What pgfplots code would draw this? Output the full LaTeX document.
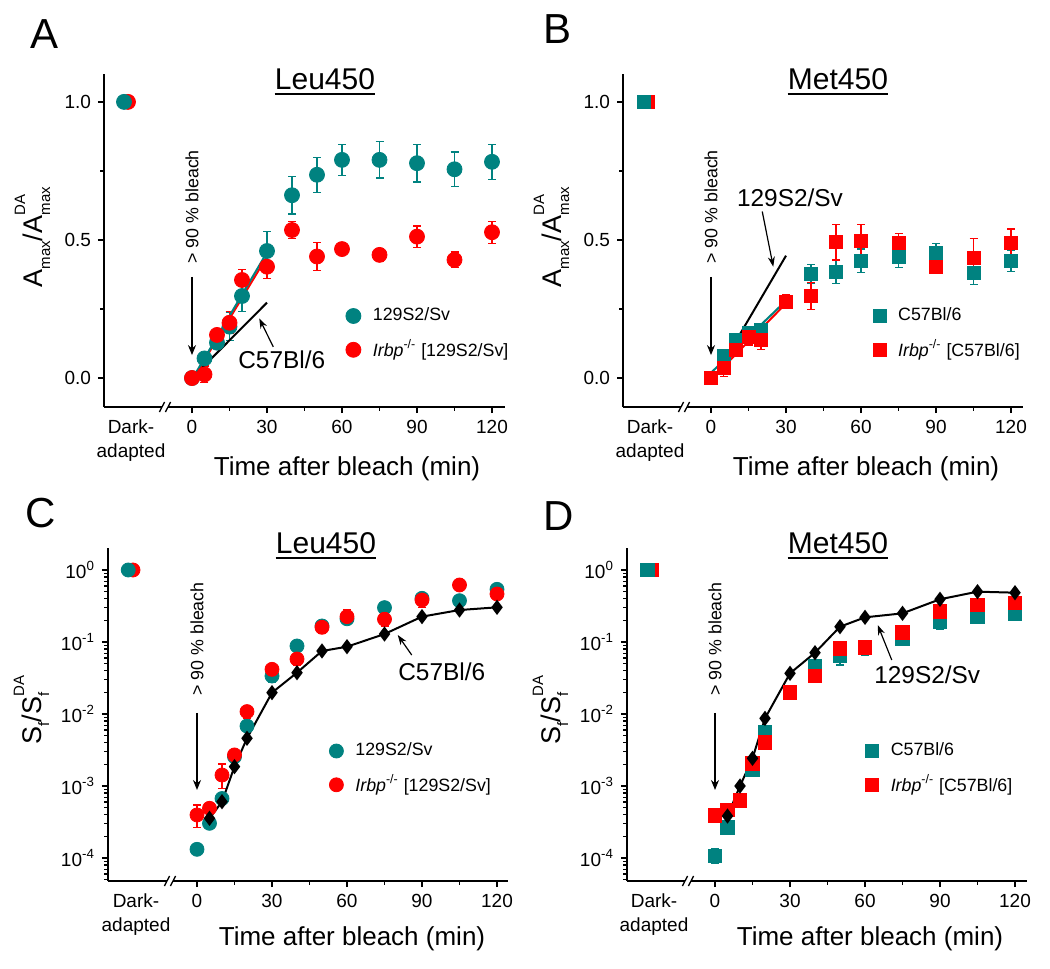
\documentclass[border=0pt]{standalone}
\usepackage{pgfplots}
\pgfplotsset{compat=1.18}
\usepackage{pgfplotstable}
\usepackage{fontspec}
\setmainfont{Liberation Sans}
\usetikzlibrary{arrows.meta}
\definecolor{tealc}{RGB}{0,130,128}
\definecolor{redc}{RGB}{255,0,0}
\newcommand{\sbs}[1]{{\fontsize{7.5}{9}\selectfont #1}}
\newcommand{\Alab}{A\raisebox{-4pt}{\sbs{max}}/A\rlap{\raisebox{-4pt}{\sbs{max}}}\raisebox{8.5pt}{\sbs{DA}}}
\newcommand{\Slab}{S\raisebox{-4pt}{\sbs{f}}/S\rlap{\raisebox{-4pt}{\sbs{f}}}\raisebox{8.5pt}{\sbs{DA}}}
\newcommand{\lfont}{\fontsize{8.9}{10}\selectfont}
\newcommand{\afont}{\fontsize{12.2}{14}\selectfont}

% ---------------- data ----------------
\pgfplotstableread{
t y e
0 0 0
5 0.071 0.012
10 0.128 0.015
15 0.186 0.05
20 0.297 0.055
30 0.46 0.07
40 0.662 0.068
50 0.736 0.063
60 0.79 0.056
75 0.79 0.066
90 0.778 0.068
105 0.756 0.062
120 0.783 0.063
}\tealA
\pgfplotstableread{
t y e
-25.6 1.0 0
0 0 0
5 0.013 0.03
10 0.156 0.02
15 0.2 0.04
20 0.355 0.039
30 0.403 0.042
40 0.536 0.03
50 0.44 0.05
60 0.467 0.01
75 0.446 0.024
90 0.512 0.039
105 0.428 0.028
120 0.528 0.04
}\redA
\pgfplotstableread{
t y e
0 0 0
5 0.08 0.015
10 0.138 0.015
15 0.162 0.02
20 0.176 0.02
30 0.276 0.02
40 0.377 0.035
50 0.385 0.042
60 0.425 0.042
75 0.44 0.04
90 0.452 0.035
105 0.379 0.04
120 0.424 0.037
}\tealB
\pgfplotstableread{
t y e
-25.4 1.0 0
0 0 0
5 0.035 0.03
10 0.101 0.02
15 0.15 0.03
20 0.138 0.035
30 0.276 0.025
40 0.297 0.05
50 0.492 0.065
60 0.497 0.06
75 0.488 0.035
90 0.403 0.025
105 0.434 0.07
120 0.49 0.05
}\redB
\pgfplotstableread{
t y ep em
0 1.32e-4 0.25e-4 0.2e-4
5 3.03e-4 0.5e-4 0.4e-4
10 6.7e-4 0.8e-4 0.7e-4
15 2.55e-3 0.3e-3 0.3e-3
20 6.8e-3 0.8e-3 0.8e-3
30 0.0337 0.004 0.006
40 0.088 0.008 0.008
50 0.167 0.02 0.02
60 0.21 0.02 0.02
75 0.30 0.02 0.02
90 0.404 0.05 0.05
105 0.375 0.04 0.04
120 0.539 0.04 0.04
}\tealC
\pgfplotstableread{
t y ep em
-25.6 1 0 0
0 3.96e-4 1.5e-4 1.3e-4
5 4.9e-4 0.7e-4 0.6e-4
10 1.42e-3 0.6e-3 0.5e-3
15 2.7e-3 0.3e-3 0.3e-3
20 0.0108 0.002 0.002
30 0.0417 0.009 0.008
40 0.058 0.012 0.01
50 0.16 0.035 0.03
60 0.225 0.055 0.045
75 0.207 0.05 0.04
90 0.383 0.1 0.08
105 0.619 0.12 0.1
120 0.464 0.06 0.05
}\redC
\pgfplotstableread{
t y
5 3.56e-4
10 6.05e-4
15 1.86e-3
20 4.6e-3
30 0.0198
40 0.0375
50 0.075
60 0.086
75 0.129
90 0.225
105 0.278
120 0.303
}\blackC
\pgfplotstableread{
t y ep em
0 1.07e-4 0.3e-4 0.24e-4
5 2.64e-4 0.2e-4 0.2e-4
10 6.2e-4 0.5e-4 0.5e-4
15 1.67e-3 0.2e-3 0.2e-3
20 5.56e-3 0.6e-3 0.6e-3
30 0.02 0.002 0.002
40 0.0454 0.008 0.008
50 0.064 0.016 0.016
60 0.086 0.02 0.02
75 0.112 0.018 0.018
90 0.191 0.04 0.04
105 0.225 0.02 0.02
120 0.25 0.03 0.03
}\tealD
\pgfplotstableread{
t y ep em
-25.4 1 0 0
0 3.87e-4 0.3e-4 0.3e-4
5 4.64e-4 0.3e-4 0.3e-4
10 6.25e-4 0.4e-4 0.4e-4
15 2.07e-3 0.2e-3 0.2e-3
20 4.0e-3 0.4e-3 0.4e-3
30 0.0198 0.002 0.002
40 0.0337 0.004 0.004
50 0.0817 0.02 0.02
60 0.0843 0.015 0.015
75 0.135 0.015 0.015
90 0.264 0.03 0.03
105 0.327 0.03 0.03
120 0.351 0.04 0.04
}\redD
\pgfplotstableread{
t y
5 3.83e-4
10 1.0e-3
15 2.42e-3
20 8.7e-3
30 0.0367
40 0.071
50 0.163
60 0.22
75 0.25
90 0.392
105 0.5
120 0.484
}\blackD

\pgfplotsset{
  panel/.style={
    scale only axis, anchor=south west, height=166.5pt,
    axis lines=left, axis line style={line width=1pt,-},
    tick align=outside, major tick length=3pt, minor tick length=1.8pt,
    every tick/.append style={line width=0.65pt, black},
    clip=false,
    xtick={0,30,60,90,120}, xticklabels={0,30,60,90,120},
    minor xtick={15,45,75,105},
    tick label style={font=\fontsize{9.5}{12}\selectfont},
    extra x ticks={-24.4}, extra x tick labels={Dark-\\adapted},
    extra x tick style={major tick style={draw=none}, tick label style={align=center}},
    legend cell align=left,
    legend style={draw=none, fill=none, inner sep=0pt, font=\lfont,
      row sep=8pt, column sep=6pt, nodes={inner sep=0pt}},
    legend image code/.code={\draw[##1] plot coordinates {(0pt,0pt)};},
  },
  linpanel/.style={ymin=-0.105, ymax=1.101,
    ytick={0,0.5,1}, yticklabels={0.0,0.5,1.0}, minor ytick={0.25,0.75}},
}

\begin{document}
\begin{tikzpicture}
\useasboundingbox (0pt,0pt) rectangle (525pt,-484.5pt);

% ================= A =================
\begin{axis}[panel, linpanel, at={(52pt,-203.5pt)}, width=200.5pt,
  xmin=-35.2, xmax=125.2,
  legend style={at={(axis cs:61.4,0.160)}, anchor=west}]
\addplot[only marks, mark=*, mark size=3.75pt, color=tealc,
  error bars/.cd, y dir=both, y explicit, error bar style={line width=0.65pt},
  error mark options={rotate=90, mark size=2pt, line width=0.65pt}]
  table[x=t, y=y, y error=e] {\tealA};
\addlegendentry{129S2/Sv}
\addplot[only marks, mark=*, mark size=3.75pt, color=redc,
  error bars/.cd, y dir=both, y explicit, error bar style={line width=0.65pt},
  error mark options={rotate=90, mark size=2pt, line width=0.65pt}]
  table[x=t, y=y, y error=e] {\redA};
\addlegendentry{\textit{Irbp}\textsuperscript{-/-} [129S2/Sv]}
\addplot[only marks, mark=*, mark size=3.75pt, color=tealc, forget plot] coordinates {(-27.2,1)};
\addplot[redc, line width=1pt, forget plot] coordinates {(0,-0.01) (30,0.44)};
\addplot[tealc, line width=1pt, forget plot] coordinates {(0,-0.005) (30,0.455)};
\addplot[black, line width=1pt, forget plot] coordinates {(0,0) (30,0.273)};
\node[rotate=90, font=\lfont] at (axis cs:0,0.62) {> 90 \% bleach};
\draw[line width=0.6pt, -{Stealth[length=5pt,width=4pt]}] (axis cs:0,0.366) -- (axis cs:0,0.083);
\node[font=\afont] at (axis cs:35.9,0.065) {C57Bl/6};
\draw[line width=0.6pt, -{Stealth[length=5pt,width=3.5pt]}] (axis cs:32.5,0.113) -- (axis cs:26.9,0.216);
\fill[white] ([xshift=-1.5pt,yshift=-2pt]axis cs:-10.8,-0.105) rectangle ([xshift=1.5pt,yshift=2pt]axis cs:-10.8,-0.105);
\draw[line width=0.65pt] ([xshift=-2.8pt,yshift=-2.5pt]axis cs:-10.8,-0.105) -- ++(2.6pt,5pt);
\draw[line width=0.65pt] ([xshift=0.2pt,yshift=-2.5pt]axis cs:-10.8,-0.105) -- ++(2.6pt,5pt);
\end{axis}

% ================= B =================
\begin{axis}[panel, linpanel, at={(311.5pt,-203.5pt)}, width=200pt,
  xmin=-35.2, xmax=124.8,
  legend style={at={(axis cs:64.7,0.160)}, anchor=west}]
\addplot[only marks, mark=square*, mark size=3.25pt, color=tealc,
  error bars/.cd, y dir=both, y explicit, error bar style={line width=0.65pt},
  error mark options={rotate=90, mark size=2pt, line width=0.65pt}]
  table[x=t, y=y, y error=e] {\tealB};
\addlegendentry{C57Bl/6}
\addplot[only marks, mark=square*, mark size=3.25pt, color=redc,
  error bars/.cd, y dir=both, y explicit, error bar style={line width=0.65pt},
  error mark options={rotate=90, mark size=2pt, line width=0.65pt}]
  table[x=t, y=y, y error=e] {\redB};
\addlegendentry{\textit{Irbp}\textsuperscript{-/-} [C57Bl/6]}
\addplot[only marks, mark=square*, mark size=3.25pt, color=tealc, forget plot] coordinates {(-27,1)};
\addplot[redc, line width=1pt, forget plot] coordinates {(0,-0.005) (30,0.27)};
\addplot[tealc, line width=1pt, forget plot] coordinates {(0,0.019) (30,0.28)};
\addplot[black, line width=1pt, forget plot] coordinates {(0,-0.02) (30,0.443)};
\node[rotate=90, font=\lfont] at (axis cs:0,0.62) {> 90 \% bleach};
\draw[line width=0.6pt, -{Stealth[length=5pt,width=4pt]}] (axis cs:0,0.366) -- (axis cs:0,0.083);
\node[font=\afont] at (axis cs:31.6,0.651) {129S2/Sv};
\draw[line width=0.6pt, -{Stealth[length=5pt,width=3.5pt]}] (axis cs:20.5,0.603) -- (axis cs:24.9,0.403);
\fill[white] ([xshift=-1.5pt,yshift=-2pt]axis cs:-10.8,-0.105) rectangle ([xshift=1.5pt,yshift=2pt]axis cs:-10.8,-0.105);
\draw[line width=0.65pt] ([xshift=-2.8pt,yshift=-2.5pt]axis cs:-10.8,-0.105) -- ++(2.6pt,5pt);
\draw[line width=0.65pt] ([xshift=0.2pt,yshift=-2.5pt]axis cs:-10.8,-0.105) -- ++(2.6pt,5pt);
\end{axis}

% ================= C =================
\begin{axis}[panel, at={(54pt,-440.5pt)}, width=200pt,
  ymode=log, ymin=4.79e-5, ymax=2.02,
  ytick={1e-4,1e-3,1e-2,1e-1,1},
  yticklabels={10\textsuperscript{-4},10\textsuperscript{-3},10\textsuperscript{-2},10\textsuperscript{-1},10\textsuperscript{0}},
  minor ytick={5e-5,6e-5,7e-5,8e-5,9e-5,2e-4,3e-4,4e-4,5e-4,6e-4,7e-4,8e-4,9e-4,2e-3,3e-3,4e-3,5e-3,6e-3,7e-3,8e-3,9e-3,2e-2,3e-2,4e-2,5e-2,6e-2,7e-2,8e-2,9e-2,0.2,0.3,0.4,0.5,0.6,0.7,0.8,0.9},
  xmin=-35.6, xmax=124.4,
  legend style={at={(axis cs:52.8,1.73e-3)}, anchor=west}]
\addplot[only marks, mark=*, mark size=3.5pt, color=tealc,
  error bars/.cd, y dir=both, y explicit, error bar style={line width=0.65pt},
  error mark options={rotate=90, mark size=2pt, line width=0.65pt}]
  table[x=t, y=y, y error plus=ep, y error minus=em] {\tealC};
\addlegendentry{129S2/Sv}
\addplot[only marks, mark=*, mark size=3.5pt, color=redc,
  error bars/.cd, y dir=both, y explicit, error bar style={line width=0.65pt},
  error mark options={rotate=90, mark size=2pt, line width=0.65pt}]
  table[x=t, y=y, y error plus=ep, y error minus=em] {\redC};
\addlegendentry{\textit{Irbp}\textsuperscript{-/-} [129S2/Sv]}
\addplot[only marks, mark=*, mark size=3.5pt, color=tealc, forget plot] coordinates {(-27.5,1)};
\addplot[black, line width=1pt, mark=diamond*, mark size=3pt, mark options={solid}, forget plot]
  table[x=t, y=y] {\blackC};
\node[rotate=90, font=\lfont] at (axis cs:0,0.110) {> 90 \% bleach};
\draw[line width=0.6pt, -{Stealth[length=5pt,width=4pt]}] (axis cs:0,0.0104) -- (axis cs:0,8.8e-4);
\node[font=\afont] at (axis cs:97.9,0.0387) {C57Bl/6};
\draw[line width=0.6pt, -{Stealth[length=5pt,width=3.5pt]}] (axis cs:85.9,0.0659) -- (axis cs:80.3,0.125);
\fill[white] ([xshift=-1.5pt,yshift=-2pt]axis cs:-10.8,4.79e-5) rectangle ([xshift=1.5pt,yshift=2pt]axis cs:-10.8,4.79e-5);
\draw[line width=0.65pt] ([xshift=-2.8pt,yshift=-2.5pt]axis cs:-10.8,4.79e-5) -- ++(2.6pt,5pt);
\draw[line width=0.65pt] ([xshift=0.2pt,yshift=-2.5pt]axis cs:-10.8,4.79e-5) -- ++(2.6pt,5pt);
\end{axis}

% ================= D =================
\begin{axis}[panel, at={(313.5pt,-440.5pt)}, width=200pt,
  ymode=log, ymin=4.79e-5, ymax=2.02,
  ytick={1e-4,1e-3,1e-2,1e-1,1},
  yticklabels={10\textsuperscript{-4},10\textsuperscript{-3},10\textsuperscript{-2},10\textsuperscript{-1},10\textsuperscript{0}},
  minor ytick={5e-5,6e-5,7e-5,8e-5,9e-5,2e-4,3e-4,4e-4,5e-4,6e-4,7e-4,8e-4,9e-4,2e-3,3e-3,4e-3,5e-3,6e-3,7e-3,8e-3,9e-3,2e-2,3e-2,4e-2,5e-2,6e-2,7e-2,8e-2,9e-2,0.2,0.3,0.4,0.5,0.6,0.7,0.8,0.9},
  xmin=-35.2, xmax=124.8,
  legend style={at={(axis cs:59.9,1.73e-3)}, anchor=west}]
\addplot[only marks, mark=square*, mark size=3.4pt, color=tealc,
  error bars/.cd, y dir=both, y explicit, error bar style={line width=0.65pt},
  error mark options={rotate=90, mark size=2pt, line width=0.65pt}]
  table[x=t, y=y, y error plus=ep, y error minus=em] {\tealD};
\addlegendentry{C57Bl/6}
\addplot[only marks, mark=square*, mark size=3.4pt, color=redc,
  error bars/.cd, y dir=both, y explicit, error bar style={line width=0.65pt},
  error mark options={rotate=90, mark size=2pt, line width=0.65pt}]
  table[x=t, y=y, y error plus=ep, y error minus=em] {\redD};
\addlegendentry{\textit{Irbp}\textsuperscript{-/-} [C57Bl/6]}
\addplot[only marks, mark=square*, mark size=3.4pt, color=tealc, forget plot] coordinates {(-27,1)};
\addplot[black, line width=1pt, mark=diamond*, mark size=3pt, mark options={solid}, forget plot]
  table[x=t, y=y] {\blackD};
\node[rotate=90, font=\lfont] at (axis cs:0,0.110) {> 90 \% bleach};
\draw[line width=0.6pt, -{Stealth[length=5pt,width=4pt]}] (axis cs:0,0.0104) -- (axis cs:0,8.8e-4);
\node[font=\afont] at (axis cs:84.9,0.0348) {129S2/Sv};
\draw[line width=0.6pt, -{Stealth[length=5pt,width=3.5pt]}] (axis cs:70.7,0.0562) -- (axis cs:65.1,0.172);
\fill[white] ([xshift=-1.5pt,yshift=-2pt]axis cs:-10.8,4.79e-5) rectangle ([xshift=1.5pt,yshift=2pt]axis cs:-10.8,4.79e-5);
\draw[line width=0.65pt] ([xshift=-2.8pt,yshift=-2.5pt]axis cs:-10.8,4.79e-5) -- ++(2.6pt,5pt);
\draw[line width=0.65pt] ([xshift=0.2pt,yshift=-2.5pt]axis cs:-10.8,4.79e-5) -- ++(2.6pt,5pt);
\end{axis}

% ---------------- labels, titles, letters ----------------
\begin{scope}[x=0.5pt, y=-0.5pt, every node/.style={inner sep=0pt}]
\node[anchor=base west, font=\fontsize{21}{24}\selectfont] at (30,48) {A};
\node[anchor=base west, font=\fontsize{21}{24}\selectfont] at (543,43) {B};
\node[anchor=base west, font=\fontsize{21}{24}\selectfont] at (25,527) {C};
\node[anchor=base west, font=\fontsize{21}{24}\selectfont] at (543,530) {D};

\node[anchor=base, font=\fontsize{15}{18}\selectfont] (tA) at (325,89.5) {Leu450};
\draw[line width=1pt] ([yshift=-2.2pt]tA.base west) -- ([yshift=-2.2pt]tA.base east);
\node[anchor=base, font=\fontsize{15}{18}\selectfont] (tB) at (838,89.5) {Met450};
\draw[line width=1pt] ([yshift=-2.2pt]tB.base west) -- ([yshift=-2.2pt]tB.base east);
\node[anchor=base, font=\fontsize{15}{18}\selectfont] (tC) at (326,553.5) {Leu450};
\draw[line width=1pt] ([yshift=-2.2pt]tC.base west) -- ([yshift=-2.2pt]tC.base east);
\node[anchor=base, font=\fontsize{15}{18}\selectfont] (tD) at (838,553.5) {Met450};
\draw[line width=1pt] ([yshift=-2.2pt]tD.base west) -- ([yshift=-2.2pt]tD.base east);

\node[anchor=base, font=\fontsize{13}{15}\selectfont] at (347,475) {Time after bleach (min)};
\node[anchor=base, font=\fontsize{13}{15}\selectfont] at (866,475) {Time after bleach (min)};
\node[anchor=base, font=\fontsize{13}{15}\selectfont] at (352,945) {Time after bleach (min)};
\node[anchor=base, font=\fontsize{13}{15}\selectfont] at (870,945) {Time after bleach (min)};

\node[anchor=base, rotate=90, font=\fontsize{13.5}{15}\selectfont] at (42,241) {\Alab};
\node[anchor=base, rotate=90, font=\fontsize{13.5}{15}\selectfont] at (561,241) {\Alab};
\node[anchor=base, rotate=90, font=\fontsize{13.5}{15}\selectfont] at (41,710) {\Slab};
\node[anchor=base, rotate=90, font=\fontsize{13.5}{15}\selectfont] at (560,710) {\Slab};
\end{scope}
\end{tikzpicture}
\end{document}
